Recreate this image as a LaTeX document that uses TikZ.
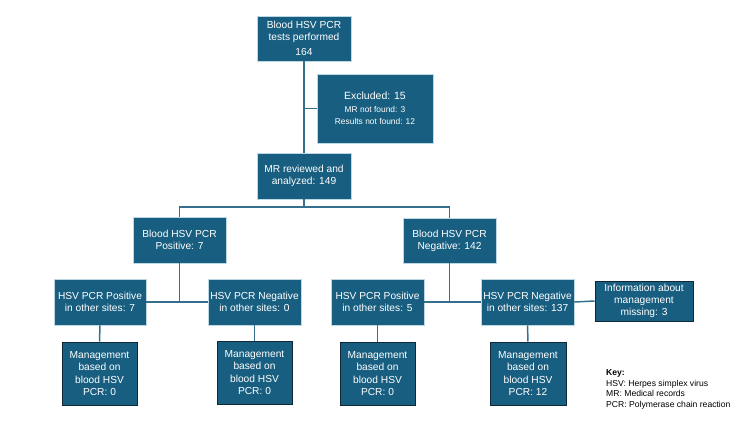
\documentclass[tikz,border=0pt]{standalone}
\usepackage{fontspec}
\setmainfont{Liberation Sans}
\definecolor{boxfill}{RGB}{24,94,128}
\definecolor{lineblue}{RGB}{52,112,142}
\definecolor{lightedge}{RGB}{190,215,228}
\definecolor{darkedge}{RGB}{15,40,55}
\begin{document}
\begin{tikzpicture}[x=1pt,y=-1pt,
  box/.style={fill=boxfill,draw=lightedge,line width=0.8pt,text=white,align=center,
    inner sep=1pt,font=\fontsize{10.2}{12.2}\selectfont},
  darkbox/.style={box,draw=darkedge,line width=1pt},
  conn/.style={draw=lineblue,line width=1.5pt}]
\useasboundingbox (0,0) rectangle (750,432);
\node[box,minimum width=94pt,minimum height=45pt] (top) at (304,38.5) {Blood HSV PCR\\tests performed\\[3pt]164};
\node[box,minimum width=116pt,minimum height=69pt] (excl) at (375,108.5)
  {{\fontsize{10.5}{13}\selectfont Excluded: 15}\\[1pt]{\fontsize{8.4}{12}\selectfont MR not found: 3}\\{\fontsize{8.4}{12}\selectfont Results not found: 12}};
\node[box,minimum width=94pt,minimum height=46pt] (mr) at (304,176) {MR reviewed and\\analyzed: 149};
\node[box,minimum width=93pt,minimum height=46pt] (bp) at (179.5,240) {Blood HSV PCR\\Positive: 7};
\node[box,minimum width=93pt,minimum height=45pt] (bn) at (449.5,240.5) {Blood HSV PCR\\Negative: 142};
\node[box,minimum width=92pt,minimum height=46pt] (p7) at (100,302) {HSV PCR Positive\\in other sites: 7};
\node[box,minimum width=93pt,minimum height=46pt] (n0) at (254.5,302) {HSV PCR Negative\\in other sites: 0};
\node[box,minimum width=93pt,minimum height=46pt] (p5) at (377.5,302) {HSV PCR Positive\\in other sites: 5};
\node[box,minimum width=93pt,minimum height=46pt] (n137) at (527.5,302) {HSV PCR Negative\\in other sites: 137};
\node[darkbox,minimum width=98pt,minimum height=40pt] (info) at (644,301) {Information about\\management\\missing: 3};
\node[darkbox,minimum width=75pt,minimum height=63pt] (m1) at (99.5,373.5) {Management\\based on\\blood HSV\\PCR: 0};
\node[darkbox,minimum width=75pt,minimum height=63pt] (m2) at (254.5,372.5) {Management\\based on\\blood HSV\\PCR: 0};
\node[darkbox,minimum width=75pt,minimum height=63pt] (m3) at (377.5,373.5) {Management\\based on\\blood HSV\\PCR: 0};
\node[darkbox,minimum width=76pt,minimum height=63pt] (m4) at (528,373.5) {Management\\based on\\blood HSV\\PCR: 12};
\node[anchor=north west,align=left,inner sep=0pt,font=\fontsize{8.6}{10.9}\selectfont] (key) at (606,369)
  {\textbf{Key:}\\HSV: Herpes simplex virus\\MR: Medical records\\PCR: Polymerase chain reaction};
% connectors
\coordinate (jm) at (304,207);
\draw[conn] (top.south) -- (mr.north);
\draw[conn] (top.south |- excl.west) -- (excl.west);
\draw[conn] (mr.south) -- (jm);
\draw[conn] (bp.north) |- (jm) -| (bn.north);
\draw[conn] (bp.south) -- (bp.south |- p7.east);
\draw[conn] (p7.east) -- (n0.west);
\draw[conn] (bn.south) -- (bn.south |- p5.east);
\draw[conn] (p5.east) -- (n137.west);
\draw[conn] (n137.east) -- (info.west);
\draw[conn] (p7.south) -- (m1.north);
\draw[conn] (n0.south) -- (m2.north);
\draw[conn] (p5.south) -- (m3.north);
\draw[conn] (n137.south) -- (m4.north);
\end{tikzpicture}
\end{document}
